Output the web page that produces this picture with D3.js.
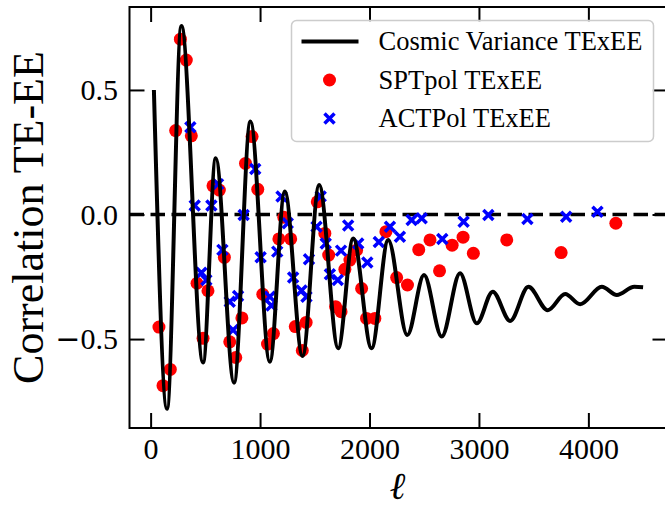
<!DOCTYPE html>
<html>
<head>
  <title>TE-EE correlation</title>
  <script src="https://d3js.org/d3.v7.min.js"></script>
  <style>
    body { margin: 0; background: #fff; }
    svg { display: block; font-family: "Liberation Serif", "DejaVu Serif", serif; }
  </style>
</head>
<body>

<script>
// cosmic variance curve at its turning points
var cvEll  = [30, 150, 281, 479, 595, 762, 912, 1089, 1226, 1388, 1540, 1714, 1851, 2019, 2171,
              2345, 2498, 2660, 2827, 2980, 3126, 3285, 3452, 3629, 3788, 3925, 4123, 4260, 4420, 4500];
var cvCorr = [0.50, -0.78, 0.757, -0.594, 0.226, -0.675, 0.373, -0.591, 0.092, -0.568, 0.118, -0.537, -0.096, -0.537, -0.102,
              -0.484, -0.243, -0.49, -0.236, -0.437, -0.31, -0.427, -0.29, -0.384, -0.319, -0.36, -0.29, -0.323, -0.29, -0.292];

// SPTpol TExEE
var sptEll  = [76, 113, 180, 229, 272, 326, 372, 424, 479, 524, 570, 628, 674, 723, 778, 834, 867, 927, 979,
               1025, 1068, 1122, 1172, 1217, 1280, 1322, 1386, 1421, 1523, 1592, 1627, 1690, 1740, 1775, 1821,
               1882, 1928, 1973, 2049, 2150, 2248, 2347, 2450, 2553, 2640, 2755, 2855, 2949, 3254, 3751, 4251];
var sptCorr = [-0.452, -0.687, -0.622, 0.337, 0.704, 0.62, 0.316, -0.276, -0.497, -0.306, 0.115, 0.098, -0.172, -0.511, -0.574, -0.415, 0.205, 0.313, 0.101,
               -0.32, -0.52, -0.478, -0.098, -0.011, -0.098, -0.45, -0.546, -0.433, 0.051, -0.076, -0.163, -0.37, -0.39, -0.22, -0.183,
               -0.143, -0.297, -0.417, -0.417, -0.069, -0.253, -0.283, -0.141, -0.102, -0.226, -0.123, -0.091, -0.156, -0.102, -0.153, -0.035];

// ACTPol TExEE
var actEll  = [363, 403, 464, 509, 555, 616, 656, 723, 753, 799, 850, 956, 1005, 1089, 1104, 1157, 1196, 1253,
               1302, 1379, 1424, 1447, 1516, 1554, 1600, 1638, 1710, 1740, 1805, 1897, 1980, 2085, 2187, 2278,
               2385, 2477, 2665, 2860, 3086, 3443, 3797, 4083];
var actCorr = [0.35, 0.036, -0.234, -0.263, 0.036, 0.122, -0.142, -0.35, -0.464, -0.327, -0.002, 0.183, -0.172, -0.33, -0.365, -0.149, 0.072, -0.035,
               -0.253, -0.305, -0.33, -0.18, -0.049, 0.072, -0.116, -0.24, -0.263, -0.145, -0.044, -0.116, -0.193, -0.11, -0.049, -0.089,
               -0.022, -0.015, -0.098, -0.029, -0.002, -0.018, -0.009, 0.011];

var xTicks = [0, 1000, 2000, 3000, 4000];
var yTicks = [-0.5, 0.0, 0.5];
var legendLabels = ["Cosmic Variance TExEE", "SPTpol TExEE", "ACTPol TExEE"];

var width = 665, height = 506;

// 軸の範囲 (matplotlib の余白込み)
var x = d3.scaleLinear().domain([-193, 4723]).range([129.5, 667.5]);
var y = d3.scaleLinear().domain([-0.857, 0.833]).range([428, 7]);

var svg = d3.select("body").append("svg")
    .attr("width", width)
    .attr("height", height);

svg.append("defs").append("clipPath").attr("id", "plot")
  .append("rect")
    .attr("x", x.range()[0]).attr("y", y.range()[1])
    .attr("width", x.range()[1] - x.range()[0])
    .attr("height", y.range()[0] - y.range()[1]);

var plot = svg.append("g").attr("clip-path", "url(#plot)");

// zero line
plot.append("line")
    .attr("x1", x.range()[0]).attr("x2", x.range()[1])
    .attr("y1", y(0)).attr("y2", y(0))
    .attr("stroke", "black")
    .attr("stroke-width", 3.5)
    .attr("stroke-dasharray", "14.5,6.5");

// SPTpol points
plot.selectAll(".spt")
    .data(d3.zip(sptEll, sptCorr))
  .enter().append("circle")
    .attr("class", "spt")
    .attr("cx", function(d) { return x(d[0]); })
    .attr("cy", function(d) { return y(d[1]); })
    .attr("r", 6.5)
    .attr("fill", "#ff0000");

function cross(s) {
  return "M" + (-s) + "," + (-s) + "L" + s + "," + s + "M" + (-s) + "," + s + "L" + s + "," + (-s);
}

// ACTPol points
plot.selectAll(".act")
    .data(d3.zip(actEll, actCorr))
  .enter().append("path")
    .attr("class", "act")
    .attr("transform", function(d) { return "translate(" + x(d[0]) + "," + y(d[1]) + ")"; })
    .attr("d", cross(5))
    .attr("fill", "none")
    .attr("stroke", "#0000ff")
    .attr("stroke-width", 3.5);

// cosmic variance curve
var line = d3.line()
    .x(function(d) { return x(d[0]); })
    .y(function(d) { return y(d[1]); })
    .curve(d3.curveMonotoneX);

plot.append("path")
    .datum(d3.zip(cvEll, cvCorr))
    .attr("d", line)
    .attr("fill", "none")
    .attr("stroke", "black")
    .attr("stroke-width", 4);

// axes, ticks pointing inward on all four sides
function styleAxis(g) {
  g.select(".domain").remove();
  g.selectAll(".tick line").attr("stroke", "black").attr("stroke-width", 2);
  g.selectAll(".tick text")
    .attr("font-family", "'Liberation Serif', 'DejaVu Serif', serif")
    .attr("font-size", 30)
    .attr("fill", "black");
}

svg.append("g")
    .attr("transform", "translate(0," + y.range()[0] + ")")
    .call(d3.axisBottom(x).tickValues(xTicks).tickSize(-15).tickPadding(9.5).tickFormat(d3.format("d")))
    .call(styleAxis);

svg.append("g")
    .attr("transform", "translate(0," + y.range()[1] + ")")
    .call(d3.axisTop(x).tickValues(xTicks).tickSize(-15).tickFormat(""))
    .call(styleAxis);

var yAxis = svg.append("g")
    .attr("transform", "translate(" + x.range()[0] + ",0)")
    .call(d3.axisLeft(y).tickValues(yTicks).tickSize(-15).tickPadding(11.5).tickFormat(d3.format(".1f")))
    .call(styleAxis);

// matplotlib の負号は幅が広い
yAxis.selectAll(".tick text").each(function(d) {
  var t = d3.select(this);
  var s = d3.format(".1f")(Math.abs(d));
  t.text("");
  if (d < 0) t.append("tspan").attr("font-family", "'DejaVu Sans'").text("\u2212");
  t.append("tspan").text(s);
});

svg.append("g")
    .attr("transform", "translate(" + x.range()[1] + ",0)")
    .call(d3.axisRight(y).tickValues(yTicks).tickSize(-15).tickFormat(""))
    .call(styleAxis);

// frame
svg.append("rect")
    .attr("x", x.range()[0]).attr("y", y.range()[1])
    .attr("width", x.range()[1] - x.range()[0])
    .attr("height", y.range()[0] - y.range()[1])
    .attr("fill", "none")
    .attr("stroke", "black")
    .attr("stroke-width", 2);

// axis labels
svg.append("text")
    .attr("x", (x.range()[0] + x.range()[1]) / 2 - 1)
    .attr("y", 499)
    .attr("text-anchor", "middle")
    .attr("font-size", 38)
    .attr("font-style", "italic")
    .text("\u2113");

svg.append("text")
    .attr("transform", "translate(43," + (y.range()[0] + y.range()[1]) / 2 + ") rotate(-90)")
    .attr("text-anchor", "middle")
    .attr("font-size", 44)
    .text("Correlation TE-EE");

// legend
var legend = svg.append("g").attr("transform", "translate(291.5,20.5)");

legend.append("rect")
    .attr("width", 362)
    .attr("height", 121)
    .attr("rx", 5)
    .attr("fill", "white")
    .attr("fill-opacity", 0.8)
    .attr("stroke", "#cccccc")
    .attr("stroke-width", 1.5);

var rows = legend.selectAll(".row")
    .data(legendLabels)
  .enter().append("g")
    .attr("class", "row")
    .attr("transform", function(d, i) { return "translate(0," + (29.5 + i * 38.5) + ")"; });

rows.append("text")
    .attr("x", 87)
    .attr("font-size", 26.5)
    .text(function(d) { return d; });

rows.filter(function(d, i) { return i === 0; }).append("line")
    .attr("x1", 10).attr("x2", 67)
    .attr("y1", -8.5).attr("y2", -8.5)
    .attr("stroke", "black")
    .attr("stroke-width", 4);

rows.filter(function(d, i) { return i === 1; }).append("circle")
    .attr("cx", 38).attr("cy", -8.5)
    .attr("r", 6.5)
    .attr("fill", "#ff0000");

rows.filter(function(d, i) { return i === 2; }).append("path")
    .attr("transform", "translate(38,-8.5)")
    .attr("d", cross(5))
    .attr("fill", "none")
    .attr("stroke", "#0000ff")
    .attr("stroke-width", 3.5);
</script>

</body>
</html>
